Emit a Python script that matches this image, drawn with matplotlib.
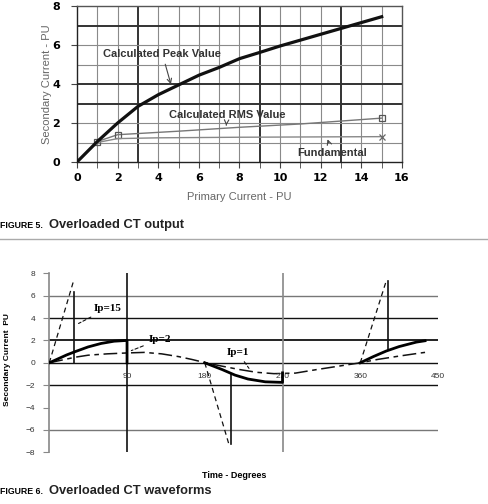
import numpy as np
import matplotlib
matplotlib.use('Agg')
import matplotlib.pyplot as plt

# ── Figure 5 data: overloaded CT output ──────────────────────────────────────
primary_pu = [0, 1, 2, 3, 4, 5, 6, 7, 8, 9, 10, 11, 12, 13, 14, 15]
peak_pu    = [0, 1.05, 2.0, 2.85, 3.45, 3.95, 4.45, 4.85, 5.3, 5.62, 5.95,
              6.25, 6.55, 6.85, 7.15, 7.45]
rms_x      = [0, 1, 2, 5, 8, 11, 15]
rms_pu     = [0, 1.05, 1.4, 1.58, 1.78, 1.95, 2.25]
rms_mark_x = [1, 2, 15]
rms_mark_y = [1.05, 1.4, 2.25]
fund_x     = [0, 1, 2, 4, 8, 15]
fund_pu    = [0, 1.0, 1.2, 1.24, 1.27, 1.3]
fund_mark_x = [15]
fund_mark_y = [1.3]

# ── Figure 6 data: overloaded CT waveforms ───────────────────────────────────
ip15_deg = [0, 28, np.nan, 180, 208, np.nan, 360, 390]
ip15_val = [0, 7.3, np.nan, 0, -7.3, np.nan, 0, 7.3]
ip15_drop_deg = [29, 29, np.nan, 210, 210, np.nan, 392, 392]
ip15_drop_val = [6.3, 0, np.nan, -7.3, -1.0, np.nan, 7.3, 1.2]

ip2_deg = [0, 10, 20, 30, 45, 60, 75, 90, 90, np.nan,
           180, 200, 215, 230, 250, 270, 270, np.nan,
           360, 375, 390, 405, 425, 435]
ip2_val = [0, 0.35, 0.7, 1.0, 1.42, 1.73, 1.93, 2.0, 0, np.nan,
           0, -0.6, -1.1, -1.45, -1.7, -1.75, -0.9, np.nan,
           0, 0.55, 1.05, 1.45, 1.85, 1.97]

ip1_deg = [0, 15, 30, 45, 67, 90, 110, 130, 150, 165, 180, 200, 220, 240,
           260, 285, 310, 335, 360, 380, 405, 430, 435]
ip1_val = [0, 0.25, 0.5, 0.68, 0.8, 0.88, 0.93, 0.8, 0.55, 0.3, 0.02, -0.3,
           -0.6, -0.85, -0.97, -0.92, -0.6, -0.3, 0.0, 0.3, 0.6, 0.88, 0.93]

wave_xticks = [90, 180, 270, 360, 450]
wave_yticks = [8, 6, 4, 2, 0, -2, -4, -6, -8]
wave_hgrid  = [6, 4, 2, 0, -2, -6]

W, H = 489, 504
fig = plt.figure(figsize=(W / 100, H / 100), dpi=100)

def fx(px):
    return px / W

def fy(py):
    return 1 - py / H

SANS = ['Liberation Sans', 'DejaVu Sans']
NARROW = ['Liberation Sans Narrow', 'Liberation Sans', 'DejaVu Sans']
SERIF = ['Liberation Serif', 'DejaVu Serif']

# ─── Figure 5 ────────────────────────────────────────────────────────────────
ax1 = fig.add_axes([fx(77), fy(162), fx(402) - fx(77), fy(6) - fy(162)])
ax1.set_xlim(0, 16)
ax1.set_ylim(0, 8)
heavy_v = [3, 9, 13]
heavy_h = [3, 4, 7]
for v in range(1, 16):
    ax1.axvline(v, color='#333333' if v in heavy_v else '#8a8a8a',
                lw=1.4 if v in heavy_v else 0.8, zorder=1)
for h in range(1, 8):
    ax1.axhline(h, color='#333333' if h in heavy_h else '#8a8a8a',
                lw=1.4 if h in heavy_h else 0.8, zorder=1)
for s in ax1.spines.values():
    s.set_color('#555555')
    s.set_linewidth(1.0)
ax1.spines['bottom'].set_color('#222222')
ax1.spines['left'].set_color('#222222')

ax1.plot(primary_pu, peak_pu, color='#111111', lw=2.3, zorder=4)
ax1.plot(rms_x, rms_pu, color='#777777', lw=1.0, zorder=3)
ax1.plot(rms_mark_x, rms_mark_y, ls='none', marker='s', ms=5, mfc='none',
         mec='#555555', mew=0.9, zorder=3)
ax1.plot(fund_x, fund_pu, color='#888888', lw=1.0, zorder=3)
ax1.plot(fund_mark_x, fund_mark_y, ls='none', marker='x', ms=5,
         mec='#666666', mew=0.9, zorder=3)

ax1.set_xticks(range(0, 17, 2))
ax1.set_yticks(range(0, 9, 2))
ax1.set_xticks(range(0, 17), minor=True)
ax1.tick_params(which='both', direction='out', length=4, color='#444444')
ax1.tick_params(axis='x', pad=4)
ax1.tick_params(axis='y', pad=8)
for lab in ax1.get_xticklabels() + ax1.get_yticklabels():
    lab.set_fontweight('bold')
    lab.set_fontsize(8)
    lab.set_family('DejaVu Sans')

ann_kw = dict(fontsize=8, fontweight='bold', color='#333333', family=SANS)
arr_kw = dict(arrowstyle='->', color='#444444', lw=0.8)
ax1.annotate('Calculated Peak Value', xy=(4.66, 3.85), xytext=(4.2, 5.55),
             ha='center', va='center', arrowprops=arr_kw, **ann_kw)
ax1.annotate('Calculated RMS Value', xy=(7.34, 1.73), xytext=(7.38, 2.42),
             ha='center', va='center', arrowprops=arr_kw, **ann_kw)
ax1.annotate('Fundamental', xy=(12.29, 1.3), xytext=(12.57, 0.45),
             ha='center', va='center', arrowprops=arr_kw, **ann_kw)

fig.text(fx(47), fy(84), 'Secondary Current - PU', rotation=90, ha='center',
         va='center', fontsize=8, color='#666666', family=SANS)
fig.text(fx(239.5), fy(197), 'Primary Current - PU', ha='center',
         va='center', fontsize=8, color='#666666', family=SANS)

fig.text(fx(0.5), fy(226), 'FIGURE 5.', ha='left', va='center',
         fontsize=6.3, fontweight='bold', family=SANS)
fig.text(fx(49), fy(225), 'Overloaded CT output', ha='left', va='center',
         fontsize=9.3, fontweight='bold', family=SANS, color='#222222')

fig.add_artist(plt.Line2D([0, fx(488)], [fy(239), fy(239)],
                          color='#aaaaaa', lw=1.0, transform=fig.transFigure))

# ─── Figure 6 ────────────────────────────────────────────────────────────────
ax2 = fig.add_axes([fx(49.3), fy(452.3), fx(438) - fx(49.3),
                    fy(273.3) - fy(452.3)])
ax2.set_xlim(0, 450)
ax2.set_ylim(-8, 8)
for s in ['top', 'right', 'bottom']:
    ax2.spines[s].set_visible(False)
ax2.spines['left'].set_color('#888888')
ax2.spines['left'].set_linewidth(1.2)

for h in wave_hgrid:
    ax2.axhline(h, color='#777777' if abs(h) == 6 else '#111111',
                lw=1.0 if h != 2 else 1.3, zorder=1)
ax2.axvline(90, color='#111111', lw=1.2, zorder=1)
ax2.axvline(270, color='#888888', lw=1.2, zorder=1)

ax2.plot(ip15_deg, ip15_val, color='#111111', lw=0.9, dashes=(4, 3), zorder=3)
ax2.plot(ip15_drop_deg, ip15_drop_val, color='#111111', lw=1.2, zorder=3)
ax2.plot(ip2_deg, ip2_val, color='#000000', lw=2.0, zorder=4)
ax2.plot(ip1_deg, ip1_val, color='#111111', lw=1.1, dashes=(9, 3, 3, 3),
         zorder=3)

ax2.set_xticks([])
ax2.set_yticks(wave_yticks)
ax2.tick_params(axis='y', direction='out', length=4, color='#888888', pad=6,
                labelsize=6, labelcolor='#333333')
for lab in ax2.get_yticklabels():
    lab.set_family(SANS)
for t in wave_xticks:
    ax2.text(t, -1.25, str(t), ha='center', va='center', fontsize=6,
             color='#333333', family=SANS)

lab_kw = dict(fontsize=8, fontweight='bold', family=SERIF, va='center',
              ha='left')
lead_kw = dict(arrowstyle='-', color='#111111', lw=0.8, ls=(0, (3, 2)))
ax2.annotate('Ip=15', xy=(31, 3.4), xytext=(51, 4.85), arrowprops=lead_kw,
             **lab_kw)
ax2.annotate('Ip=2', xy=(92, 1.0), xytext=(115, 2.1), arrowprops=lead_kw,
             **lab_kw)
ax2.annotate('Ip=1', xy=(233, -0.7), xytext=(205, 0.95), arrowprops=lead_kw,
             **lab_kw)

fig.text(fx(8), fy(360), 'Secondary Current  PU', rotation=90, ha='center',
         va='center', fontsize=6, fontweight='bold', family=NARROW)
fig.text(fx(234), fy(475.7), 'Time - Degrees', ha='center', va='center',
         fontsize=6.5, fontweight='bold', family=NARROW)

fig.text(fx(0.5), fy(492), 'FIGURE 6.', ha='left', va='center',
         fontsize=6.3, fontweight='bold', family=SANS)
fig.text(fx(49), fy(491), 'Overloaded CT waveforms', ha='left', va='center',
         fontsize=9.3, fontweight='bold', family=SANS, color='#222222')

fig.savefig('out.png', dpi=100)
